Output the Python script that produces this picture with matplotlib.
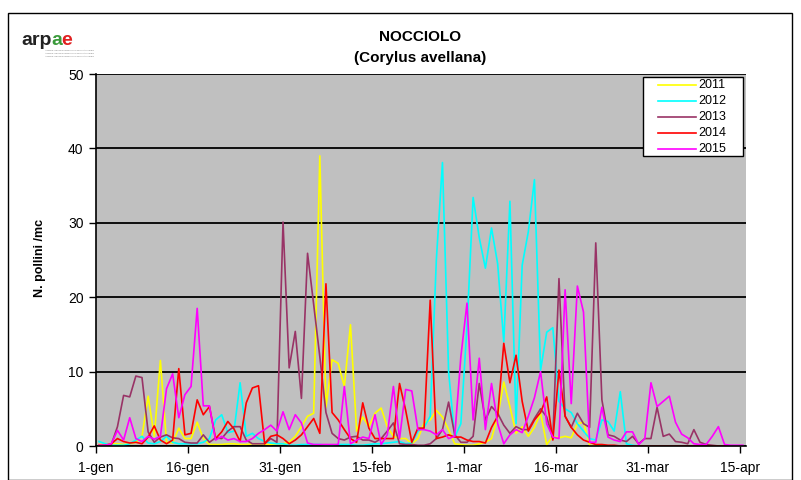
import numpy as np
import matplotlib
matplotlib.use("Agg")
import matplotlib.pyplot as plt
from matplotlib.patches import Rectangle
from matplotlib.lines import Line2D

plt.rcParams['font.family'] = ['Liberation Sans', 'DejaVu Sans']

tick_labels = ["1-gen", "16-gen", "31-gen", "15-feb", "1-mar", "16-mar", "31-mar", "15-apr"]
years = ["2011", "2012", "2013", "2014", "2015"]
colors = ["#FFFF00", "#00FFFF", "#993366", "#FF0000", "#FF00FF"]

y2011 = [0.2, 0.2, 0.3, 0.3, 0.2, 0.3, 0.5, 1.3, 6.7, 1.3,
         11.5, 0.5, 0.4, 2.4, 1.0, 1.0, 3.2, 1.0, 0.2, 0.2,
         0.2, 0.3, 0.3, 0.2, 0.2, 0.3, 0.3, 0.2, 0.2, 0.3,
         0.3, 0.5, 1.3, 2.6, 4.0, 4.4, 39.0, 5.2, 11.6, 11.1,
         8.0, 16.3, 2.0, 3.9, 2.6, 4.4, 5.1, 2.6, 1.3, 1.0,
         1.0, 0.3, 1.0, 3.1, 3.5, 4.8, 3.9, 2.2, 0.3, 0.2,
         0.1, 0.1, 0.3, 0.5, 1.0, 3.9, 8.6, 5.3, 1.7, 2.6,
         1.3, 2.5, 4.4, 0.2, 1.3, 1.1, 1.3, 1.1, 3.0, 3.2,
         0.1, 0.0, 0.0, 0.0, 0.0, 0.0, 0.0, 0.0, 0.0, 0.0,
         0.0, 0.0, 0.0, 0.0, 0.0, 0.0, 0.0, 0.0, 0.0, 0.0,
         0.0, 0.0, 0.0, 0.0, 0.0, 0.0]
y2012 = [0.6, 0.3, 0.1, 0.1, 0.1, 0.3, 0.8, 1.3, 0.4, 0.3,
         0.6, 1.3, 0.5, 0.3, 0.3, 0.3, 0.3, 0.5, 1.0, 3.5,
         4.2, 1.8, 2.0, 8.5, 1.3, 1.7, 1.0, 0.6, 0.4, 0.3,
         0.3, 0.1, 0.1, 0.2, 0.2, 0.2, 0.2, 0.1, 0.1, 0.2,
         0.2, 0.2, 0.1, 0.1, 0.2, 0.3, 0.3, 0.4, 0.5, 0.6,
         0.3, 0.4, 2.0, 2.5, 4.0, 25.0, 38.1, 10.0, 1.2, 3.0,
         16.0, 33.4, 28.0, 23.9, 29.3, 24.5, 14.0, 32.9, 3.0, 24.3,
         28.8, 35.8, 10.2, 15.3, 15.9, 6.0, 5.0, 4.5, 3.0, 2.0,
         1.0, 0.8, 3.5, 3.3, 2.0, 7.3, 0.3, 0.1, 0.0, 0.0,
         0.0, 0.0, 0.0, 0.0, 0.0, 0.0, 0.0, 0.0, 0.0, 0.0,
         0.0, 0.0, 0.0, 0.0, 0.0, 0.0]
y2013 = [0.0, 0.0, 0.2, 2.6, 6.8, 6.6, 9.4, 9.2, 1.9, 0.5,
         1.2, 1.5, 1.1, 1.0, 0.5, 0.4, 0.4, 1.5, 0.5, 1.1,
         1.0, 2.0, 2.6, 2.6, 0.8, 0.3, 0.3, 0.3, 1.0, 0.5,
         30.1, 10.5, 15.4, 6.4, 25.9, 19.0, 12.0, 4.5, 1.7, 1.0,
         0.8, 1.2, 1.3, 0.8, 0.8, 0.5, 1.0, 2.0, 3.1, 0.3,
         0.2, 0.2, 0.1, 0.1, 0.3, 1.0, 2.2, 5.9, 1.5, 0.5,
         0.5, 1.3, 8.4, 3.5, 5.3, 4.4, 2.8, 1.7, 2.6, 2.2,
         2.2, 3.7, 5.0, 3.9, 1.0, 22.5, 4.0, 2.5, 4.4, 3.0,
         2.5, 27.3, 6.2, 1.5, 1.3, 0.8, 0.6, 1.3, 0.3, 1.0,
         1.0, 5.2, 1.3, 1.6, 0.6, 0.5, 0.3, 2.2, 0.5, 0.2,
         0.1, 0.0, 0.0, 0.0, 0.0, 0.0]
y2014 = [0.1, 0.1, 0.3, 1.0, 0.6, 0.4, 0.5, 0.3, 1.2, 2.7,
         0.8, 0.3, 0.8, 10.4, 1.5, 1.7, 6.2, 4.2, 5.3, 1.0,
         1.9, 3.3, 2.3, 0.6, 5.8, 7.8, 8.1, 0.3, 1.3, 1.5,
         1.0, 0.3, 0.8, 1.5, 2.6, 3.7, 1.7, 21.8, 4.5, 3.5,
         2.2, 1.0, 0.5, 5.8, 2.4, 1.0, 1.0, 1.0, 1.0, 8.4,
         4.8, 0.5, 2.4, 2.4, 19.6, 1.0, 1.2, 1.5, 1.2, 1.2,
         0.8, 0.6, 0.6, 0.4, 2.5, 4.0, 13.8, 8.5, 12.2, 6.0,
         2.0, 3.5, 4.5, 6.6, 0.8, 10.2, 4.0, 2.5, 1.5, 0.8,
         0.5, 0.2, 0.2, 0.1, 0.1, 0.0, 0.0, 0.0, 0.0, 0.0,
         0.0, 0.0, 0.0, 0.0, 0.0, 0.0, 0.0, 0.0, 0.0, 0.0,
         0.0, 0.0, 0.0, 0.0, 0.0, 0.0]
y2015 = [0.1, 0.1, 0.3, 2.1, 0.8, 3.8, 1.0, 0.6, 1.3, 0.9,
         1.3, 7.7, 9.7, 3.8, 6.9, 8.0, 18.5, 5.4, 5.4, 0.8,
         1.3, 0.8, 1.0, 0.6, 0.6, 1.0, 1.7, 2.2, 2.8, 2.0,
         4.6, 2.2, 4.2, 3.1, 0.4, 0.2, 0.2, 0.2, 0.2, 0.2,
         8.0, 0.3, 0.8, 1.2, 1.0, 4.2, 0.2, 1.5, 8.0, 1.0,
         7.6, 7.4, 2.2, 2.2, 2.0, 1.5, 2.2, 1.0, 1.3, 12.0,
         19.2, 3.5, 11.8, 2.2, 8.4, 3.0, 0.3, 1.5, 2.2, 1.8,
         4.0, 6.5, 10.0, 3.0, 1.2, 1.0, 21.0, 5.7, 21.5, 18.0,
         0.5, 0.5, 5.2, 1.2, 0.8, 0.6, 1.9, 1.9, 0.2, 1.0,
         8.5, 5.3, 6.0, 6.7, 3.2, 1.6, 1.1, 0.3, 0.2, 0.2,
         1.3, 2.6, 0.2, 0.1, 0.1, 0.1]

series = [y2011, y2012, y2013, y2014, y2015]

W, H = 801, 480
fig = plt.figure(figsize=(W / 100, H / 100), dpi=100)
fig.patch.set_facecolor("white")

# outer frame
fig.patches.append(Rectangle((8 / W, 0), (792 - 8) / W, (H - 13) / H,
                             transform=fig.transFigure, fill=False,
                             edgecolor="black", lw=1.0))

ax = fig.add_axes([96 / W, (480 - 446) / H, 650 / W, 372 / H])
ax.set_facecolor("#C0C0C0")

n = len(y2011)
x = np.arange(n) + 0.5
for yr, col, vals in zip(years, colors, series):
    ax.plot(x, vals, color=col, lw=1.2, label=yr)

ax.set_xlim(0, n)
ax.set_ylim(0, 50)
ax.set_yticks(range(0, 51, 10))
ax.set_xticks(range(0, n, 15))
ax.set_xticklabels(tick_labels)
ax.yaxis.grid(True, color="black", lw=1.3)
ax.set_axisbelow(True)
for s in ["top", "right"]:
    ax.spines[s].set_visible(False)
for s in ["left", "bottom"]:
    ax.spines[s].set_color("black")
    ax.spines[s].set_linewidth(1.2)
ax.tick_params(axis="both", direction="out", length=5, width=1, labelsize=10, colors="black")
ax.tick_params(axis="x", pad=6)
ax.tick_params(axis="y", pad=4)

# legend box drawn in axes coordinates
def ax_x(px):
    return (px - 96) / 650.0

def ax_y(py):
    return (446 - py) / 372.0

ax.add_patch(Rectangle((ax_x(643), ax_y(156)), ax_x(743) - ax_x(643), ax_y(77) - ax_y(156),
                       transform=ax.transAxes, facecolor="white", edgecolor="black",
                       lw=1.0, zorder=10, clip_on=False))
row_y = [85, 101, 117, 133, 149]
for yr, col, ry in zip(years, colors, row_y):
    ax.add_line(Line2D([ax_x(658), ax_x(696)], [ax_y(ry), ax_y(ry)], color=col, lw=1.2,
                       transform=ax.transAxes, zorder=11, clip_on=False))
    ax.text(ax_x(698), ax_y(ry), yr, transform=ax.transAxes, fontsize=9,
            ha="left", va="center", zorder=12)

fig.text(420 / W, 1 - 37 / H, "NOCCIOLO", ha="center", va="center",
         fontsize=11, fontweight="bold")
fig.text(420 / W, 1 - 58 / H, "(Corylus avellana)", ha="center", va="center",
         fontsize=11, fontweight="bold")
fig.text(40 / W, 1 - 258 / H, "N. pollini /mc", ha="center", va="center",
         rotation=90, fontsize=9, fontweight="bold")

# logo
logo_parts = [("arp", "#222222"), ("a", "#3A9A3A"), ("e", "#E02020")]
renderer = fig.canvas.get_renderer()
xpos = 21
for txt, col in logo_parts:
    t = fig.text(xpos / W, 1 - 45 / H, txt, ha="left", va="baseline",
                 fontsize=14, fontweight="bold", color=col)
    bb = t.get_window_extent(renderer=renderer)
    xpos = bb.x1 - 0.5
for k, yy in enumerate([50, 53, 56]):
    fig.text(45 / W, 1 - yy / H, "Agenzia regionale prevenzione ambiente energia",
             fontsize=1.6, color="#808080", ha="left", va="center")

fig.savefig("out.png", dpi=100)
